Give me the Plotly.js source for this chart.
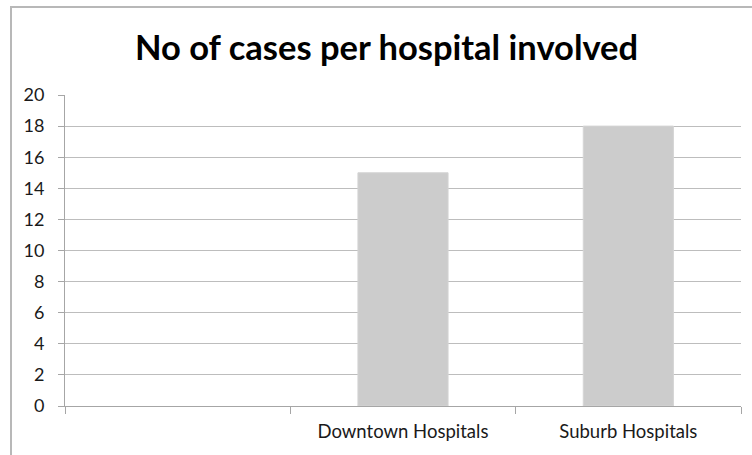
<!DOCTYPE html>
<html>
<head>
<meta charset="utf-8">
<script src="https://cdn.plot.ly/plotly-3.0.1.min.js"></script>
<style>
html,body{margin:0;padding:0;background:#fff;}
#chart{width:752px;height:455px;}
</style>
</head>
<body>
<div id="chart"></div>
<script>
const chartTitle = "No of cases per hospital involved";
const categories = [" ", "Downtown Hospitals", "Suburb Hospitals"];
const cases = [null, 15, 18];
const yTicks = [0, 2, 4, 6, 8, 10, 12, 14, 16, 18, 20];

const trace = {
  type: "bar",
  x: categories,
  y: cases,
  width: 0.4,
  marker: {color: "#cccccc", line: {color: "#d4d4d4", width: 1}},
  hoverinfo: "x+y"
};

const layout = {
  width: 752,
  height: 455,
  margin: {l: 65, r: 11, t: 95, b: 49},
  paper_bgcolor: "#ffffff",
  plot_bgcolor: "#ffffff",
  font: {family: "Lato, 'Open Sans', sans-serif", color: "#1a1a1a", size: 18},
  title: {
    text: chartTitle,
    font: {family: "Lato, 'Open Sans', sans-serif", size: 34.5, color: "#000000", weight: "bold"},
    x: 0.514, xanchor: "center",
    xref: "container",
    y: 1 - 48/455, yanchor: "middle",
    yref: "container"
  },
  showlegend: false,
  bargap: 0.6,
  xaxis: {
    type: "category",
    categoryorder: "array",
    categoryarray: categories,
    tickson: "boundaries",
    ticks: "outside",
    ticklen: 7,
    tickcolor: "#a6a6a6",
    showgrid: false,
    showline: true,
    linecolor: "#a6a6a6",
    linewidth: 1,
    zeroline: false,
    tickfont: {size: 18.5, color: "#1a1a1a"},
    ticklabelstandoff: 9,
    fixedrange: true
  },
  yaxis: {
    range: [0, 20],
    tickvals: yTicks,
    ticktext: yTicks.map(String),
    ticks: "outside",
    ticklen: 6,
    tickcolor: "#a6a6a6",
    showgrid: true,
    gridcolor: "#bdbdbd",
    gridwidth: 1,
    showline: true,
    linecolor: "#a6a6a6",
    linewidth: 1,
    zeroline: false,
    tickfont: {size: 18, color: "#1a1a1a"},
    ticklabelstandoff: 10,
    fixedrange: true
  },
  shapes: [{
    type: "rect",
    xref: "paper", yref: "paper",
    x0: (11 - 65) / 676, x1: 1.2,
    y0: -0.5, y1: (406 - 6.5) / 311.3,
    line: {color: "#b8b8b8", width: 2},
    fillcolor: "rgba(0,0,0,0)",
    layer: "below"
  }]
};

Plotly.newPlot("chart", [trace], layout, {displayModeBar: false, staticPlot: true});
</script>
</body>
</html>
